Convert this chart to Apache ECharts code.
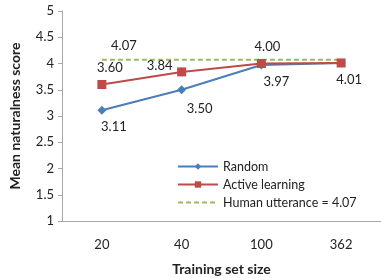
<!DOCTYPE html>
<html>
<head>
<meta charset="utf-8">
<script src="https://cdn.jsdelivr.net/npm/echarts@6/dist/echarts.min.js"></script>
<style>
  html, body { margin: 0; padding: 0; background: #fff; }
  #chart { width: 381px; height: 278px; }
</style>
</head>
<body>
<div id="chart"></div>
<script>
// data
const sizes = ['20', '40', '100', '362']
const randomScores = [3.11, 3.50, 3.97, 4.01]
const activeScores = [3.60, 3.84, 4.00, 4.01]
const humanScore = 4.07
const yTicks = [1, 1.5, 2, 2.5, 3, 3.5, 4, 4.5, 5]

// label nudges, Excel places them a bit off-centre
const randomLabelOffset = [[12, 0], [18, 2], [15, 0], [8, 0]]
const activeLabelOffset = [[8, 0], [-22, 11], [6, 0], null]

const font = 'Lato, "Open Sans", sans-serif'
const chart = echarts.init(document.getElementById('chart'))

const randomData = randomScores.map((v, i) => ({
  value: v,
  label: { offset: randomLabelOffset[i] }
}))
const activeData = activeScores.map((v, i) => activeLabelOffset[i]
  ? { value: v, label: { offset: activeLabelOffset[i] } }
  : { value: v, label: { show: false } })
const humanData = sizes.map((s, i) => i === 0
  ? { value: humanScore, label: { show: true, offset: [22, -3] } }
  : { value: humanScore })

chart.setOption({
  animation: false,
  textStyle: { fontFamily: font, color: '#222' },
  grid: { left: 62, right: 0, top: 11, bottom: 57, outerBoundsMode: 'none', containLabel: false },
  legend: {
    orient: 'vertical',
    left: 172,
    top: 155,
    itemWidth: 40,
    itemHeight: 8,
    itemGap: 5,
    textStyle: { fontFamily: font, fontSize: 12.5, color: '#222' },
    data: [
      { name: 'Random' },
      { name: 'Active learning' },
      { name: 'Human utterance = 4.07', itemStyle: { opacity: 0 } }
    ]
  },
  xAxis: {
    type: 'category',
    data: sizes,
    name: 'Training set size',
    nameLocation: 'middle',
    nameGap: 41,
    nameTextStyle: { fontWeight: 'bold', fontSize: 14, color: '#222' },
    axisLine: { lineStyle: { color: '#a6a6a6' } },
    axisTick: { alignWithLabel: true, length: 4, lineStyle: { color: '#a6a6a6' } },
    axisLabel: { fontSize: 13, color: '#222', margin: 17 }
  },
  yAxis: {
    type: 'value',
    min: yTicks[0],
    max: yTicks[yTicks.length - 1],
    interval: 0.5,
    name: 'Mean naturalness score',
    nameLocation: 'middle',
    nameGap: 40,
    nameTextStyle: { fontWeight: 'bold', fontSize: 14, color: '#222' },
    axisLine: { show: true, lineStyle: { color: '#a6a6a6' } },
    axisTick: { show: true, length: 4, lineStyle: { color: '#a6a6a6' } },
    splitLine: { show: false },
    axisLabel: { fontSize: 13, color: '#222', margin: 8 }
  },
  series: [
    {
      name: 'Human utterance = 4.07',
      type: 'line',
      data: humanData,
      symbol: 'circle',
      symbolSize: 0,
      lineStyle: { color: '#9bbb59', width: 2, type: [5, 3] },
      itemStyle: { color: '#9bbb59' },
      label: { show: false, position: 'top', fontSize: 13, color: '#222', formatter: p => p.value.toFixed(2) },
      z: 1
    },
    {
      name: 'Random',
      type: 'line',
      data: randomData,
      symbol: 'diamond',
      symbolSize: 9,
      lineStyle: { color: '#4a7ebb', width: 2 },
      itemStyle: { color: '#4a7ebb' },
      label: { show: true, position: 'bottom', distance: 6, fontSize: 13, color: '#222', formatter: p => p.value.toFixed(2) },
      z: 2
    },
    {
      name: 'Active learning',
      type: 'line',
      data: activeData,
      symbol: 'rect',
      symbolSize: 9,
      lineStyle: { color: '#be4b48', width: 2 },
      itemStyle: { color: '#be4b48' },
      label: { show: true, position: 'top', distance: 6, fontSize: 13, color: '#222', formatter: p => p.value.toFixed(2) },
      z: 3
    }
  ]
})
</script>
</body>
</html>
